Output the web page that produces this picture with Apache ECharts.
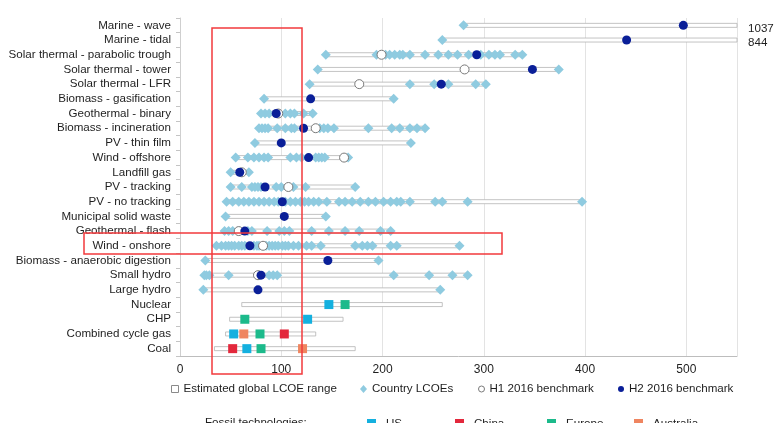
<!DOCTYPE html>
<html>
<head>
<meta charset="utf-8">
<script src="https://cdn.jsdelivr.net/npm/echarts@6/dist/echarts.min.js"></script>
<style>
  html, body { margin: 0; padding: 0; background: #fff; }
  #chart { width: 777px; height: 423px; }
</style>
</head>
<body>
<div id="chart"></div>
<script>
// Technologies, top to bottom
const categories = [
  'Marine - wave', 'Marine - tidal', 'Solar thermal - parabolic trough',
  'Solar thermal - tower', 'Solar thermal - LFR', 'Biomass - gasification',
  'Geothermal - binary', 'Biomass - incineration', 'PV - thin film',
  'Wind - offshore', 'Landfill gas', 'PV - tracking', 'PV - no tracking',
  'Municipal solid waste', 'Geothermal - flash', 'Wind - onshore',
  'Biomass - anaerobic digestion', 'Small hydro', 'Large hydro',
  'Nuclear', 'CHP', 'Combined cycle gas', 'Coal'
];

// Estimated global LCOE range ($/MWh)
const rangeLow  = [280, 259, 144, 136, 128, 83, 80, 78, 74, 55, 50, 50, 46, 45, 44, 36, 25, 24, 23, 61, 49, 45, 34];
const rangeHigh = [1037, 844, 338, 374, 302, 211, 131, 242, 228, 166, 68, 173, 397, 144, 208, 276, 196, 284, 257, 259, 161, 134, 173];

// Country LCOEs per technology
const countryLcoe = [
  [280],
  [259],
  [144, 194, 203, 207, 212, 217, 220, 227, 242, 255, 265, 274, 285, 297, 305, 311, 316, 331, 338],
  [136, 374],
  [128, 227, 251, 265, 292, 302],
  [83, 211],
  [80, 84, 88, 104, 109, 113, 122, 131],
  [78, 81, 84, 87, 96, 104, 110, 113, 138, 142, 146, 152, 186, 209, 217, 227, 234, 242],
  [74, 228],
  [55, 67, 73, 78, 83, 87, 109, 115, 120, 134, 137, 140, 143, 166],
  [50, 68],
  [50, 61, 71, 74, 77, 80, 95, 100, 112, 124, 173],
  [46, 52, 58, 63, 68, 73, 78, 83, 88, 93, 97, 104, 109, 114, 119, 123, 127, 132, 137, 145, 157, 163, 170, 178, 186, 193, 201, 208, 214, 218, 227, 252, 259, 284, 397],
  [45, 144],
  [44, 48, 52, 67, 71, 86, 98, 103, 108, 130, 147, 163, 177, 198, 208],
  [36, 41, 45, 48, 51, 54, 58, 61, 64, 73, 76, 78, 85, 88, 91, 94, 97, 101, 104, 107, 112, 117, 125, 130, 139, 173, 180, 185, 190, 208, 214, 276],
  [25, 196],
  [24, 26, 29, 48, 78, 88, 92, 96, 211, 246, 269, 284],
  [23, 257],
  [], [], [], []
];

// Benchmarks
const h1Benchmark = [null, null, 199, 281, 177, null, 97, 134, null, 162, 61, 107, null, null, 58, 82, null, 77, null, null, null, null, null];
const h2Benchmark = [497, 441, 293, 348, 258, 129, 95, 122, 100, 127, 59, 84, 101, 103, 64, 69, 146, 80, 77, null, null, null, null];

// Fossil technologies by region
const fossilCategories = ['Nuclear', 'CHP', 'Combined cycle gas', 'Coal'];
const fossilUS        = [147, 126, 53, 66];
const fossilChina     = [null, null, 103, 52];
const fossilEurope    = [163, 64, 79, 80];
const fossilAustralia = [null, null, 63, 121];

// X axis ticks
const xTicks = [0, 100, 200, 300, 400, 500];
const xMax = 550;

const FONT = '"Liberation Sans", Arial, sans-serif';
const TEXT_COLOR = '#1e1e1e';
const FS = 11.6;

const pairs = (vals, cats) => vals.map((v, i) => v == null ? null : [v, cats[i]]).filter(Boolean);

const rangeData = categories.map((c, i) => [rangeLow[i], rangeHigh[i], i]);
const countryData = categories.flatMap((c, i) => countryLcoe[i].map(v => [v, c]));

const chart = echarts.init(document.getElementById('chart'), null, { renderer: 'canvas' });

function renderRange(params, api) {
  const lo = api.value(0), hi = api.value(1), idx = api.value(2);
  const start = api.coord([lo, idx]);
  const end = api.coord([Math.min(hi, xMax), idx]);
  const h = 4;
  const children = [{
    type: 'rect',
    shape: { x: start[0], y: start[1] - h / 2, width: end[0] - start[0], height: h },
    style: { fill: '#ffffff', stroke: '#b4b4b4', lineWidth: 0.8 }
  }];
  if (hi > xMax) {
    // values beyond the axis are written next to the clipped bar
    children.push({
      type: 'text',
      x: end[0] + 11, y: end[1] + 3,
      style: { text: String(hi), fill: TEXT_COLOR, font: FS + 'px ' + FONT, textAlign: 'left', textVerticalAlign: 'middle' }
    });
  }
  return { type: 'group', children };
}

const legendText = { color: TEXT_COLOR, fontSize: FS, fontFamily: FONT };
const fossilLegendText = Object.assign({}, legendText, { padding: [0, 0, 0, 5] });
const legendBase = { padding: 0, selectedMode: false };

chart.setOption({
  animation: false,
  backgroundColor: '#ffffff',
  textStyle: { fontFamily: FONT },
  grid: { left: 180, right: 40, top: 18, bottom: 67 },
  xAxis: {
    type: 'value', min: 0, max: xMax, interval: 100,
    axisLine: { show: true, lineStyle: { color: '#bdbdbd' } },
    axisTick: { show: false },
    axisLabel: {
      color: TEXT_COLOR, fontSize: 12, fontFamily: FONT, margin: 8, showMaxLabel: false,
      formatter: v => xTicks.includes(v) ? String(v) : ''
    },
    splitLine: { show: true, lineStyle: { color: '#e3e3e3', width: 1 } }
  },
  yAxis: {
    type: 'category', data: categories, inverse: true,
    axisLine: { show: true, lineStyle: { color: '#cfcfcf' } },
    axisTick: { show: true, length: 4, interval: 0, lineStyle: { color: '#c4c4c4' } },
    axisLabel: { color: TEXT_COLOR, fontSize: FS, fontFamily: FONT, margin: 9, interval: 0 },
    splitLine: { show: false }
  },
  legend: [
    Object.assign({ data: [{ name: 'Estimated global LCOE range', icon: 'rect', itemStyle: { color: '#fff', borderColor: '#8a8a8a', borderWidth: 1 } }],
      left: 171, top: 383, itemWidth: 7, itemHeight: 7, textStyle: legendText }, legendBase),
    Object.assign({ data: [{ name: 'Country LCOEs', icon: 'diamond' }], left: 360, top: 383, itemWidth: 7, itemHeight: 8, textStyle: legendText }, legendBase),
    Object.assign({ data: [{ name: 'H1 2016 benchmark', icon: 'circle', itemStyle: { color: '#fff', borderColor: '#7a7a7a', borderWidth: 1 } }],
      left: 478, top: 383, itemWidth: 6, itemHeight: 6, textStyle: legendText }, legendBase),
    Object.assign({ data: [{ name: 'H2 2016 benchmark', icon: 'circle' }], left: 618, top: 383, itemWidth: 6, itemHeight: 6, textStyle: legendText }, legendBase),
    Object.assign({ data: [{ name: 'US', icon: 'rect' }], left: 367, top: 418, itemWidth: 9, itemHeight: 10, textStyle: fossilLegendText }, legendBase),
    Object.assign({ data: [{ name: 'China', icon: 'rect' }], left: 455, top: 418, itemWidth: 9, itemHeight: 10, textStyle: fossilLegendText }, legendBase),
    Object.assign({ data: [{ name: 'Europe', icon: 'rect' }], left: 547, top: 418, itemWidth: 9, itemHeight: 10, textStyle: fossilLegendText }, legendBase),
    Object.assign({ data: [{ name: 'Australia', icon: 'rect' }], left: 634, top: 418, itemWidth: 9, itemHeight: 10, textStyle: fossilLegendText }, legendBase)
  ],
  graphic: [
    { type: 'text', left: 205, top: 417, style: { text: 'Fossil technologies:', fill: TEXT_COLOR, font: FS + 'px ' + FONT } },
    // highlight boxes
    { type: 'rect', z: 100, shape: { x: 212, y: 28, width: 90, height: 346 }, style: { fill: 'none', stroke: '#f23a3c', lineWidth: 1.5 } },
    { type: 'rect', z: 100, shape: { x: 84, y: 233, width: 418, height: 21 }, style: { fill: 'none', stroke: '#f23a3c', lineWidth: 1.5 } }
  ],
  series: [
    {
      name: 'Estimated global LCOE range', type: 'custom', clip: false,
      itemStyle: { color: '#ffffff', borderColor: '#8a8a8a' },
      renderItem: renderRange, encode: { x: [0, 1], y: 2 }, data: rangeData, z: 1
    },
    {
      name: 'Country LCOEs', type: 'scatter', symbol: 'diamond', symbolSize: 10,
      itemStyle: { color: '#8fcbe0', opacity: 1 }, data: countryData, z: 2
    },
    {
      name: 'H1 2016 benchmark', type: 'scatter', symbol: 'circle', symbolSize: 9,
      itemStyle: { color: '#ffffff', borderColor: '#7a7a7a', borderWidth: 1, opacity: 1 },
      data: pairs(h1Benchmark, categories), z: 3
    },
    {
      name: 'H2 2016 benchmark', type: 'scatter', symbol: 'circle', symbolSize: 9,
      itemStyle: { color: '#0a1f98', opacity: 1 }, data: pairs(h2Benchmark, categories), z: 4
    },
    { name: 'US', type: 'scatter', symbol: 'rect', symbolSize: 9, itemStyle: { color: '#14b0df', opacity: 1 }, data: pairs(fossilUS, fossilCategories), z: 5 },
    { name: 'China', type: 'scatter', symbol: 'rect', symbolSize: 9, itemStyle: { color: '#e3283c', opacity: 1 }, data: pairs(fossilChina, fossilCategories), z: 5 },
    { name: 'Europe', type: 'scatter', symbol: 'rect', symbolSize: 9, itemStyle: { color: '#1cba8b', opacity: 1 }, data: pairs(fossilEurope, fossilCategories), z: 5 },
    { name: 'Australia', type: 'scatter', symbol: 'rect', symbolSize: 9, itemStyle: { color: '#ef8560', opacity: 1 }, data: pairs(fossilAustralia, fossilCategories), z: 5 }
  ]
});
</script>
</body>
</html>
